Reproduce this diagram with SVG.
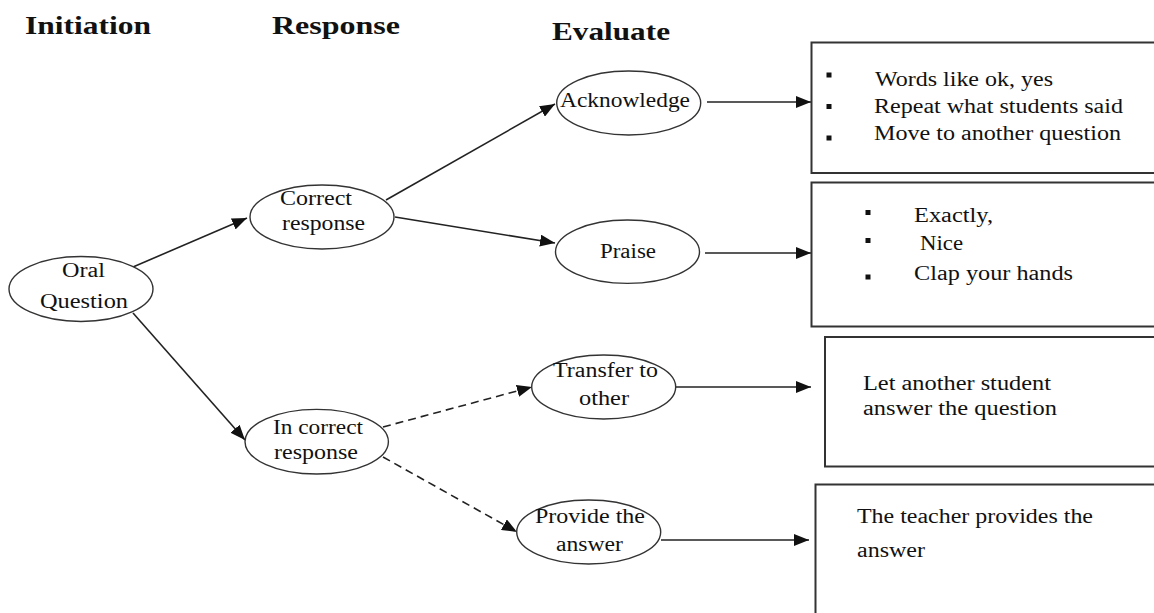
<svg xmlns="http://www.w3.org/2000/svg" width="1154" height="613" viewBox="0 0 1154 613">
<style>
text{font-family:"Liberation Serif","Times New Roman",serif;font-size:20px;fill:#111}
.h{font-size:26px;font-weight:bold}
.n{fill:#fff;stroke:#333;stroke-width:1.4}
.b{fill:#fff;stroke:#333;stroke-width:2}
.c{fill:none;stroke:#222;stroke-width:1.6}
.d{stroke-dasharray:8 5}
.bul{fill:#111}
</style>
<defs>
<marker id="ah" markerUnits="userSpaceOnUse" markerWidth="16" markerHeight="12" refX="15" refY="6" orient="auto">
<path d="M0,0 L15,6 L0,12 Z" fill="#111"/>
</marker>
</defs>
<rect width="1154" height="613" fill="#fff"/>
<g id="headers">
<text class="h" x="25" y="34" textLength="126" lengthAdjust="spacingAndGlyphs">Initiation</text>
<text class="h" x="272" y="34" textLength="128" lengthAdjust="spacingAndGlyphs">Response</text>
<text class="h" x="552" y="40" textLength="118" lengthAdjust="spacingAndGlyphs">Evaluate</text>
</g>
<g id="connectors">
<line class="c" x1="133" y1="267" x2="247" y2="218" marker-end="url(#ah)"/>
<line class="c" x1="133" y1="313" x2="245" y2="440" marker-end="url(#ah)"/>
<line class="c" x1="386" y1="200" x2="555" y2="104" marker-end="url(#ah)"/>
<line class="c" x1="395" y1="217" x2="555" y2="243" marker-end="url(#ah)"/>
<line class="c d" x1="383" y1="427" x2="532" y2="387" marker-end="url(#ah)"/>
<line class="c d" x1="383" y1="457" x2="517" y2="532" marker-end="url(#ah)"/>
<line class="c" x1="707" y1="102" x2="811" y2="102" marker-end="url(#ah)"/>
<line class="c" x1="705" y1="253" x2="811" y2="253" marker-end="url(#ah)"/>
<line class="c" x1="676" y1="387" x2="811" y2="387" marker-end="url(#ah)"/>
<line class="c" x1="661" y1="540" x2="809" y2="540" marker-end="url(#ah)"/>
</g>
<g id="oral-question">
<ellipse class="n" cx="81" cy="289" rx="72" ry="32.5"/>
<text x="62" y="277" textLength="43" lengthAdjust="spacingAndGlyphs">Oral</text>
<text x="40" y="308" textLength="88" lengthAdjust="spacingAndGlyphs">Question</text>
</g>
<g id="correct-response">
<ellipse class="n" cx="322" cy="217" rx="72" ry="32"/>
<text x="280" y="205" textLength="72" lengthAdjust="spacingAndGlyphs">Correct</text>
<text x="282" y="230" textLength="83" lengthAdjust="spacingAndGlyphs">response</text>
</g>
<g id="incorrect-response">
<ellipse class="n" cx="316.7" cy="441.7" rx="71.7" ry="32.3"/>
<text x="273" y="434" textLength="90" lengthAdjust="spacingAndGlyphs">In correct</text>
<text x="274" y="459" textLength="84" lengthAdjust="spacingAndGlyphs">response</text>
</g>
<g id="acknowledge">
<ellipse class="n" cx="628.7" cy="103" rx="72" ry="32"/>
<text x="560" y="107" textLength="130" lengthAdjust="spacingAndGlyphs">Acknowledge</text>
</g>
<g id="praise">
<ellipse class="n" cx="627.5" cy="251.7" rx="72" ry="31.7"/>
<text x="600" y="257.5" textLength="56" lengthAdjust="spacingAndGlyphs">Praise</text>
</g>
<g id="transfer">
<ellipse class="n" cx="603.7" cy="387" rx="72" ry="32"/>
<text x="553" y="377" textLength="105" lengthAdjust="spacingAndGlyphs">Transfer to</text>
<text x="579" y="405" textLength="50" lengthAdjust="spacingAndGlyphs">other</text>
</g>
<g id="provide">
<ellipse class="n" cx="588.7" cy="532" rx="72" ry="32"/>
<text x="535" y="523" textLength="110" lengthAdjust="spacingAndGlyphs">Provide the</text>
<text x="556" y="550.5" textLength="67" lengthAdjust="spacingAndGlyphs">answer</text>
</g>
<g id="box-acknowledge">
<rect class="b" x="811.5" y="42.5" width="360" height="130.5"/>
<rect class="bul" x="826.5" y="72.5" width="5" height="5"/>
<rect class="bul" x="826.5" y="104" width="5" height="5"/>
<rect class="bul" x="826.5" y="135.5" width="5" height="5"/>
<text x="875" y="86" textLength="178" lengthAdjust="spacingAndGlyphs">Words like ok, yes</text>
<text x="874" y="113" textLength="249" lengthAdjust="spacingAndGlyphs">Repeat what students said</text>
<text x="874" y="140" textLength="247" lengthAdjust="spacingAndGlyphs">Move to another question</text>
</g>
<g id="box-praise">
<rect class="b" x="811.5" y="182.5" width="360" height="144"/>
<rect class="bul" x="865.5" y="210" width="5" height="5"/>
<rect class="bul" x="865.5" y="238" width="5" height="5"/>
<rect class="bul" x="865.5" y="274.5" width="5" height="5"/>
<text x="914" y="221.5" textLength="79" lengthAdjust="spacingAndGlyphs">Exactly,</text>
<text x="920" y="250" textLength="43" lengthAdjust="spacingAndGlyphs">Nice</text>
<text x="914" y="280" textLength="159" lengthAdjust="spacingAndGlyphs">Clap your hands</text>
</g>
<g id="box-transfer">
<rect class="b" x="825" y="337" width="360" height="129.5"/>
<text x="863" y="390" textLength="188" lengthAdjust="spacingAndGlyphs">Let another student</text>
<text x="863" y="415" textLength="194" lengthAdjust="spacingAndGlyphs">answer the question</text>
</g>
<g id="box-provide">
<rect class="b" x="815.5" y="484.5" width="360" height="200"/>
<text x="857" y="523" textLength="236" lengthAdjust="spacingAndGlyphs">The teacher provides the</text>
<text x="857" y="556.5" textLength="68" lengthAdjust="spacingAndGlyphs">answer</text>
</g>
</svg>
